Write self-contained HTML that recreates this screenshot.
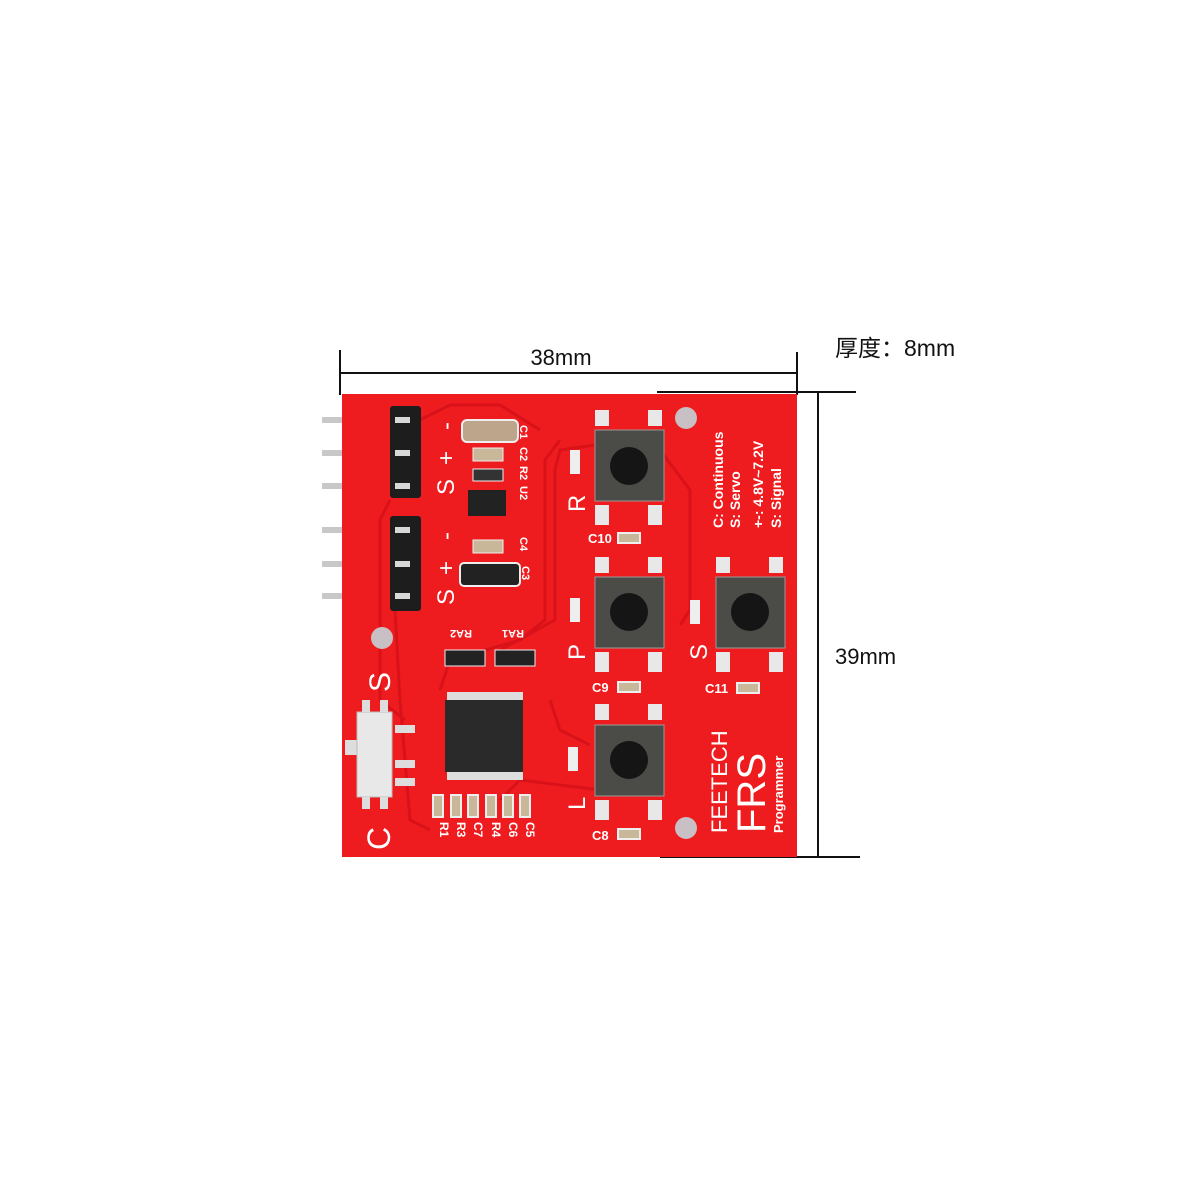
<!DOCTYPE html>
<html><head><meta charset="utf-8"><style>
html,body{margin:0;padding:0;background:#fff;width:1200px;height:1200px;overflow:hidden}
svg{display:block}
</style></head><body>
<svg width="1200" height="1200" viewBox="0 0 1200 1200" xmlns="http://www.w3.org/2000/svg" font-family="Liberation Sans, Noto Sans CJK SC, sans-serif">
<g stroke="#111" stroke-width="2" fill="none">
<line x1="340" y1="373" x2="797" y2="373"/>
<line x1="340" y1="350" x2="340" y2="395"/>
<line x1="797" y1="352" x2="797" y2="395"/>
<line x1="818" y1="393" x2="818" y2="857"/>
<line x1="657" y1="392" x2="856" y2="392"/>
<line x1="660" y1="857" x2="860" y2="857"/>
</g>
<text x="561" y="365" font-size="22" text-anchor="middle" fill="#111">38mm</text>
<text x="835" y="356" font-size="23" fill="#111">厚度：8mm</text>
<text x="835" y="664" font-size="22" fill="#111">39mm</text>
<g fill="#c8c8c8">
<rect x="322" y="417" width="80" height="6"/><rect x="322" y="450" width="80" height="6"/><rect x="322" y="483" width="80" height="6"/>
<rect x="322" y="527" width="80" height="6"/><rect x="322" y="561" width="80" height="6"/><rect x="322" y="593" width="80" height="6"/>
</g>
<rect x="342" y="394" width="455" height="463" fill="#ee1c1f"/>
<g stroke="#d9121a" stroke-width="3" fill="none">
<path d="M420 420 L450 405 L500 405 L540 430"/>
<path d="M560 440 L545 460 L545 620 L520 640 L450 660 L440 690"/>
<path d="M595 445 L560 450 L555 470 L555 620 L500 650"/>
<path d="M660 450 L690 490 L690 610 L680 625"/>
<path d="M550 700 L560 730 L590 745"/>
<path d="M390 500 L380 520 L380 700 L405 720"/>
<path d="M395 610 L400 700 L410 820 L430 830"/>
<path d="M600 790 L520 780 L500 800"/>
</g>
<rect x="390" y="406" width="31" height="92" fill="#1d1d1d" rx="3"/>
<rect x="390" y="516" width="31" height="95" fill="#1d1d1d" rx="3"/>
<g fill="#d8d8d8"><rect x="395" y="417" width="15" height="6"/><rect x="395" y="450" width="15" height="6"/><rect x="395" y="483" width="15" height="6"/><rect x="395" y="527" width="15" height="6"/><rect x="395" y="561" width="15" height="6"/><rect x="395" y="593" width="15" height="6"/></g>
<g fill="#fff" font-size="24">
<text transform="translate(454,495) rotate(-90)">S</text>
<text transform="translate(454,465) rotate(-90)">+</text>
<text transform="translate(454,430) rotate(-90)">-</text>
<text transform="translate(454,605) rotate(-90)">S</text>
<text transform="translate(454,575) rotate(-90)">+</text>
<text transform="translate(454,540) rotate(-90)">-</text>
<text transform="translate(585,512) rotate(-90)">R</text>
<text transform="translate(585,660) rotate(-90)">P</text>
<text transform="translate(585,810) rotate(-90)">L</text>
<text transform="translate(707,660) rotate(-90)">S</text>
<text transform="translate(390,692) rotate(-90)" font-size="30">S</text>
<text transform="translate(390,850) rotate(-90)" font-size="32">C</text>
</g>
<rect x="462" y="420" width="56" height="22" rx="5" fill="#bca58a" stroke="#eee" stroke-width="2"/>
<rect x="473" y="448" width="30" height="13" fill="#c9b79a" stroke="#eee"/>
<rect x="473" y="469" width="30" height="12" fill="#333" stroke="#eee"/>
<rect x="468" y="490" width="38" height="26" fill="#222"/>
<rect x="473" y="540" width="30" height="13" fill="#c9b79a" stroke="#eee"/>
<rect x="460" y="563" width="60" height="23" rx="4" fill="#222" stroke="#eee" stroke-width="2"/>
<g fill="#fff" font-size="11" font-weight="bold">
<text transform="translate(520,425) rotate(90)">C1</text>
<text transform="translate(520,447) rotate(90)">C2</text>
<text transform="translate(520,466) rotate(90)">R2</text>
<text transform="translate(520,486) rotate(90)">U2</text>
<text transform="translate(520,537) rotate(90)">C4</text>
<text transform="translate(522,566) rotate(90)">C3</text>
<text transform="translate(472,630) rotate(180)">RA2</text>
<text transform="translate(524,630) rotate(180)">RA1</text>
</g>
<rect x="445" y="650" width="40" height="16" fill="#222" stroke="#eee"/>
<rect x="495" y="650" width="40" height="16" fill="#222" stroke="#eee"/>
<g fill="#ddd"><rect x="447" y="692" width="76" height="10"/><rect x="447" y="770" width="76" height="10"/></g>
<rect x="445" y="700" width="78" height="72" fill="#2a2a2a"/>
<rect x="345" y="740" width="15" height="15" fill="#ddd"/>
<rect x="357" y="712" width="35" height="85" fill="#e8e8e8" stroke="#bbb"/>
<g fill="#ddd"><rect x="362" y="700" width="8" height="12"/><rect x="380" y="700" width="8" height="12"/><rect x="362" y="797" width="8" height="12"/><rect x="380" y="797" width="8" height="12"/>
<rect x="395" y="725" width="20" height="8"/><rect x="395" y="760" width="20" height="8"/><rect x="395" y="778" width="20" height="8"/></g>
<g fill="#c9b79a" stroke="#eee" stroke-width="2">
<rect x="433" y="795" width="10" height="22"/><rect x="451" y="795" width="10" height="22"/><rect x="468" y="795" width="10" height="22"/><rect x="486" y="795" width="10" height="22"/><rect x="503" y="795" width="10" height="22"/><rect x="520" y="795" width="10" height="22"/>
</g>
<g fill="#fff" font-size="12" font-weight="bold">
<text transform="translate(440,822) rotate(90)">R1</text><text transform="translate(457,822) rotate(90)">R3</text><text transform="translate(474,822) rotate(90)">C7</text><text transform="translate(492,822) rotate(90)">R4</text><text transform="translate(509,822) rotate(90)">C6</text><text transform="translate(526,822) rotate(90)">C5</text>
</g>
<g fill="#c8c0c4"><circle cx="686" cy="418" r="11"/><circle cx="382" cy="638" r="11"/><circle cx="686" cy="828" r="11"/></g>
<g>
<g fill="#e8e8e8"><rect x="595" y="410" width="14" height="16"/><rect x="648" y="410" width="14" height="16"/><rect x="595" y="505" width="14" height="20"/><rect x="648" y="505" width="14" height="20"/></g>
<rect x="595" y="430" width="69" height="71" fill="#4b4b48" stroke="#999"/><circle cx="629" cy="466" r="19" fill="#151515"/>
<g fill="#e8e8e8"><rect x="595" y="557" width="14" height="16"/><rect x="648" y="557" width="14" height="16"/><rect x="595" y="652" width="14" height="20"/><rect x="648" y="652" width="14" height="20"/></g>
<rect x="595" y="577" width="69" height="71" fill="#4b4b48" stroke="#999"/><circle cx="629" cy="612" r="19" fill="#151515"/>
<g fill="#e8e8e8"><rect x="595" y="704" width="14" height="16"/><rect x="648" y="704" width="14" height="16"/><rect x="595" y="800" width="14" height="20"/><rect x="648" y="800" width="14" height="20"/></g>
<rect x="595" y="725" width="69" height="71" fill="#4b4b48" stroke="#999"/><circle cx="629" cy="760" r="19" fill="#151515"/>
<g fill="#e8e8e8"><rect x="716" y="557" width="14" height="16"/><rect x="769" y="557" width="14" height="16"/><rect x="716" y="652" width="14" height="20"/><rect x="769" y="652" width="14" height="20"/></g>
<rect x="716" y="577" width="69" height="71" fill="#4b4b48" stroke="#999"/><circle cx="750" cy="612" r="19" fill="#151515"/>
</g>
<g fill="#eee"><rect x="570" y="450" width="10" height="24"/><rect x="570" y="598" width="10" height="24"/><rect x="568" y="747" width="10" height="24"/><rect x="690" y="600" width="10" height="24"/></g>
<g fill="#c9b79a" stroke="#eee" stroke-width="2"><rect x="618" y="533" width="22" height="10"/><rect x="618" y="682" width="22" height="10"/><rect x="618" y="829" width="22" height="10"/><rect x="737" y="683" width="22" height="10"/></g>
<g fill="#fff" font-size="13" font-weight="bold"><text x="588" y="543">C10</text><text x="592" y="692">C9</text><text x="592" y="840">C8</text><text x="705" y="693">C11</text></g>
<g fill="#fff" font-weight="bold" font-size="14">
<text transform="translate(723,528) rotate(-90)">C: Continuous</text>
<text transform="translate(740,528) rotate(-90)">S: Servo</text>
<text transform="translate(763,528) rotate(-90)">+-: 4.8V~7.2V</text>
<text transform="translate(781,528) rotate(-90)">S: Signal</text>
<text transform="translate(727,833) rotate(-90)" font-size="22" font-weight="normal">FEETECH</text>
<text transform="translate(765,833) rotate(-90)" font-size="40" font-weight="normal">FRS</text>
<text transform="translate(783,833) rotate(-90)" font-size="13">Programmer</text>
</g>
</svg>
</body></html>
